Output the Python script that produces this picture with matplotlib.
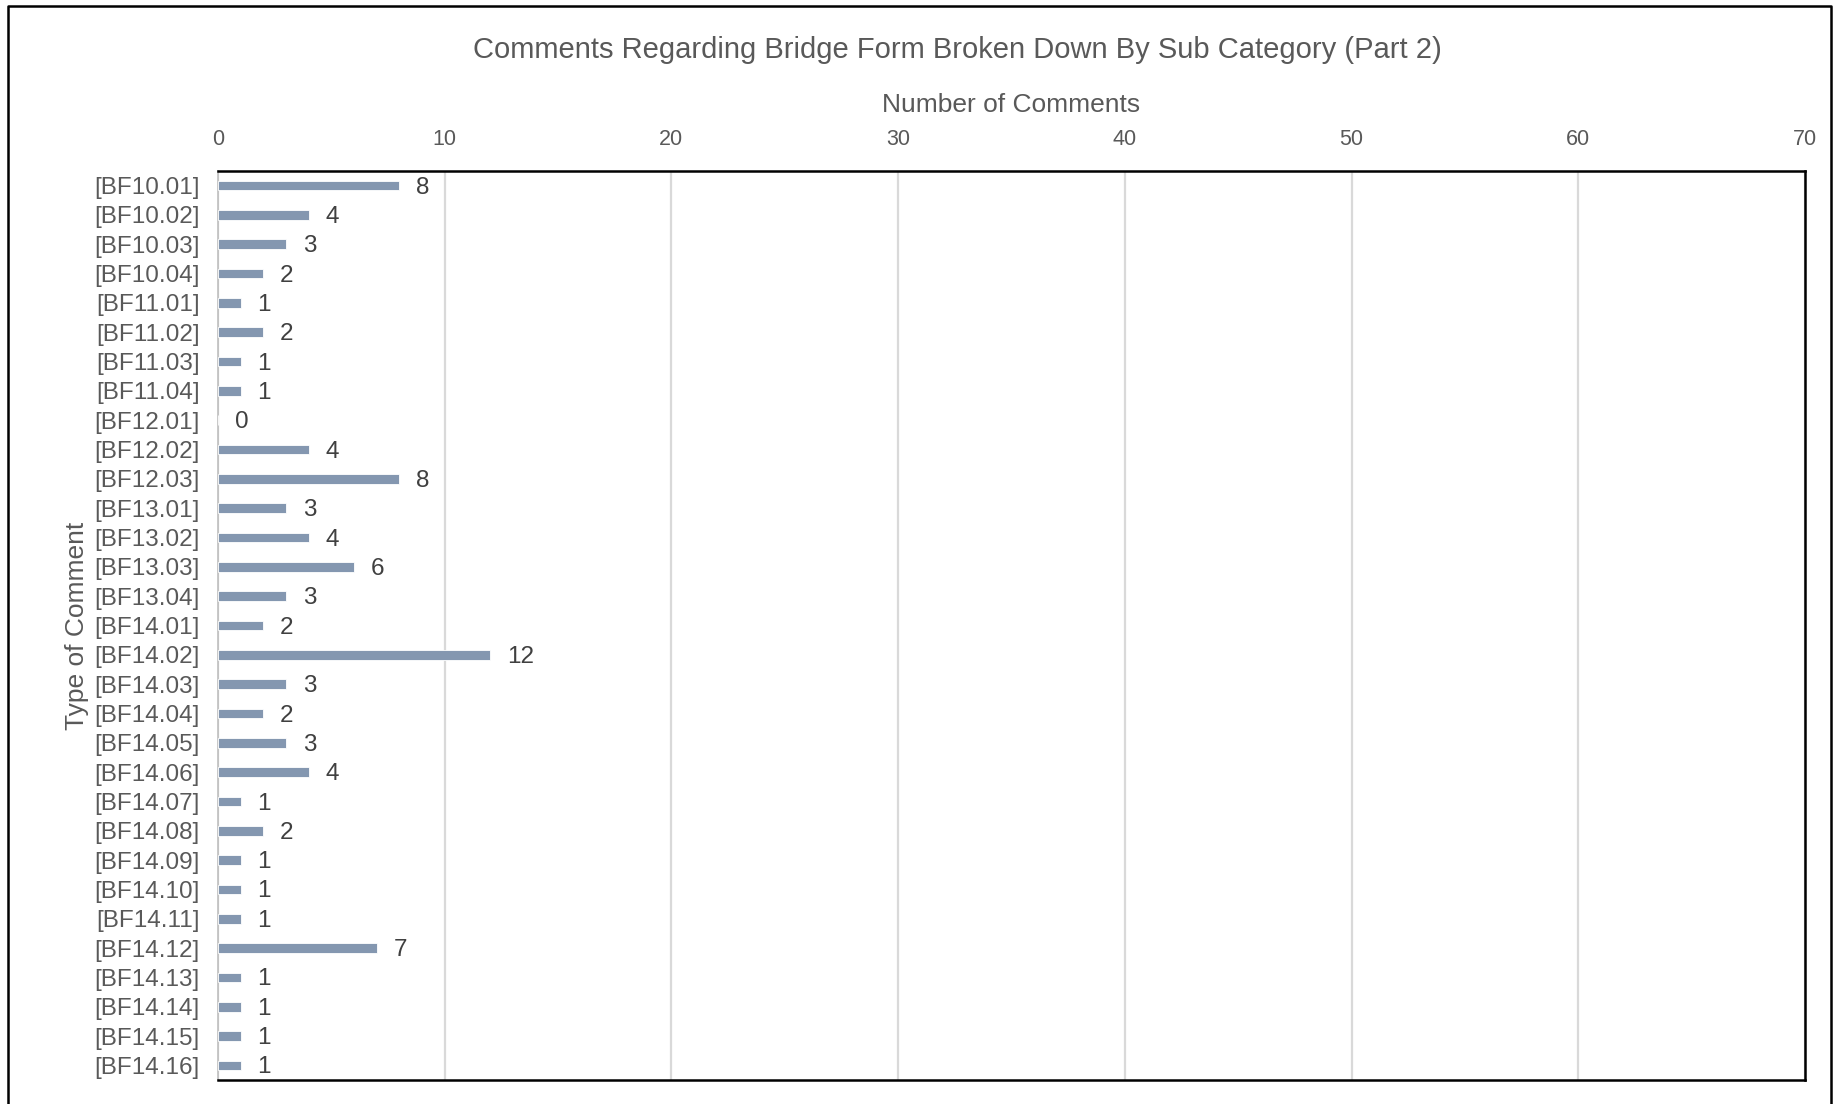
import matplotlib.pyplot as plt
from matplotlib.lines import Line2D

plt.rcParams['font.family'] = ['Liberation Sans', 'DejaVu Sans']

codes = ["[BF10.01]", "[BF10.02]", "[BF10.03]", "[BF10.04]",
         "[BF11.01]", "[BF11.02]", "[BF11.03]", "[BF11.04]",
         "[BF12.01]", "[BF12.02]", "[BF12.03]",
         "[BF13.01]", "[BF13.02]", "[BF13.03]", "[BF13.04]",
         "[BF14.01]", "[BF14.02]", "[BF14.03]", "[BF14.04]",
         "[BF14.05]", "[BF14.06]", "[BF14.07]", "[BF14.08]",
         "[BF14.09]", "[BF14.10]", "[BF14.11]", "[BF14.12]",
         "[BF14.13]", "[BF14.14]", "[BF14.15]", "[BF14.16]"]
counts = [8, 4, 3, 2,
          1, 2, 1, 1,
          0, 4, 8,
          3, 4, 6, 3,
          2, 12, 3, 2,
          3, 4, 1, 2,
          1, 1, 1, 7,
          1, 1, 1, 1]
x_ticks = [0, 10, 20, 30, 40, 50, 60, 70]

W, H = 1839, 1104
fig = plt.figure(figsize=(W / 100, H / 100), dpi=100)
ax = fig.add_axes([218 / W, 1 - 1080 / H, (1805 - 218) / W, (1080 - 171) / H])

pos = list(range(len(codes)))
ax.barh(pos, counts, height=0.33, color='#8497B0', edgecolor='white', linewidth=0.6, zorder=3)
for p, v in zip(pos, counts):
    ax.annotate(str(v), (v, p), xytext=(12, -1.5), textcoords='offset points',
                va='center', ha='left', fontsize=17.5, color='#404040')

ax.set_ylim(len(codes) - 0.5, -0.5)
ax.set_yticks(pos)
ax.set_yticklabels(codes, fontsize=17.5, color='#595959')
ax.set_xlim(0, 70)
ax.set_xticks(x_ticks)
ax.set_xticklabels([str(t) for t in x_ticks], fontsize=15.5, color='#595959')
ax.xaxis.tick_top()
ax.xaxis.set_label_position('top')
ax.tick_params(length=0)
ax.tick_params(axis='y', pad=13)
ax.tick_params(axis='x', pad=15)
ax.grid(axis='x', color='#D9D9D9', linewidth=1.6, zorder=0)

for side in ['top', 'right', 'bottom']:
    ax.spines[side].set_color('black')
    ax.spines[side].set_linewidth(1.8)
ax.spines['left'].set_color('#BFBFBF')
ax.spines['left'].set_linewidth(1.2)

ax.set_xlabel("Number of Comments", fontsize=19, color='#595959', labelpad=12)
ax.set_ylabel("Type of Comment", fontsize=19, color='#595959', labelpad=4)

fig.text(957 / W, 1 - 50 / H, "Comments Regarding Bridge Form Broken Down By Sub Category (Part 2)",
         ha='center', va='center', fontsize=21, color='#595959')

# chart frame, open at the bottom
fig.add_artist(Line2D([8 / W, 8 / W, 1831 / W, 1831 / W], [0, 1 - 6 / H, 1 - 6 / H, 0],
                      transform=fig.transFigure, color='black', linewidth=1.8))

fig.savefig("out.png", dpi=100)
